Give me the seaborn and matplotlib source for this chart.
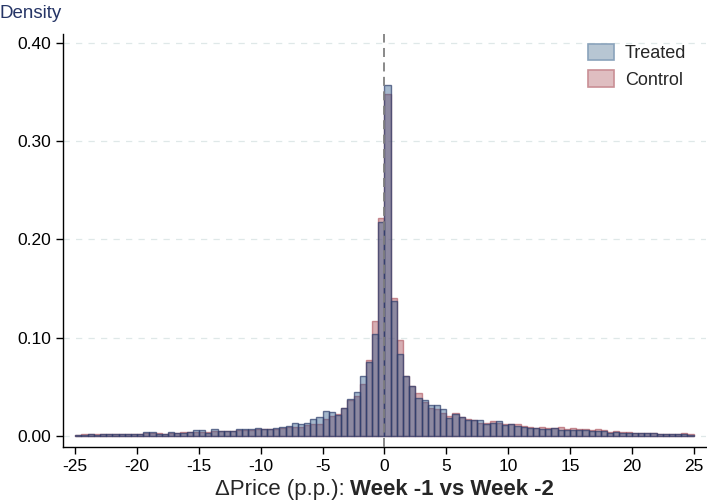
import numpy as np
import pandas as pd
import seaborn as sns
import matplotlib.pyplot as plt
from matplotlib.patches import Patch
from matplotlib.offsetbox import TextArea, HPacker, AnchoredOffsetbox

# histogram densities, bins of width 0.5 from -25 to 25
bin_lo = -25.0
bin_w = 0.5

treated = [
    0.0014, 0.0014, 0.0017, 0.0014, 0.0017, 0.0017, 0.0017, 0.0020, 0.0024, 0.0024,
    0.0024, 0.0037, 0.0037, 0.0024, 0.0024, 0.0037, 0.0027, 0.0031, 0.0037, 0.0058,
    0.0058, 0.0034, 0.0068, 0.0054, 0.0054, 0.0054, 0.0071, 0.0068, 0.0071, 0.0078,
    0.0068, 0.0068, 0.0078, 0.0092, 0.0102, 0.0132, 0.0122, 0.0129, 0.0176, 0.0197,
    0.0258, 0.0244, 0.0214, 0.0285, 0.0376, 0.0451, 0.0607, 0.0749, 0.1040, 0.2180,
    0.3570, 0.1370, 0.0830, 0.0614, 0.0512, 0.0383, 0.0363, 0.0319, 0.0319, 0.0278,
    0.0180, 0.0220, 0.0190, 0.0163, 0.0166, 0.0166, 0.0119, 0.0136, 0.0156, 0.0115,
    0.0119, 0.0102, 0.0092, 0.0085, 0.0085, 0.0075, 0.0071, 0.0078, 0.0064, 0.0058,
    0.0064, 0.0058, 0.0058, 0.0051, 0.0051, 0.0047, 0.0034, 0.0041, 0.0034, 0.0034,
    0.0031, 0.0031, 0.0027, 0.0027, 0.0024, 0.0024, 0.0017, 0.0017, 0.0020, 0.0010,
]
control = [
    0.0014, 0.0024, 0.0024, 0.0017, 0.0024, 0.0017, 0.0017, 0.0024, 0.0024, 0.0024,
    0.0024, 0.0027, 0.0031, 0.0027, 0.0024, 0.0027, 0.0027, 0.0037, 0.0044, 0.0041,
    0.0041, 0.0037, 0.0047, 0.0047, 0.0054, 0.0054, 0.0058, 0.0061, 0.0064, 0.0071,
    0.0068, 0.0068, 0.0075, 0.0085, 0.0092, 0.0092, 0.0092, 0.0115, 0.0119, 0.0125,
    0.0176, 0.0200, 0.0224, 0.0285, 0.0363, 0.0410, 0.0532, 0.0776, 0.1166, 0.2220,
    0.3480, 0.1405, 0.0980, 0.0614, 0.0512, 0.0441, 0.0342, 0.0281, 0.0275, 0.0234,
    0.0203, 0.0237, 0.0190, 0.0176, 0.0160, 0.0132, 0.0136, 0.0156, 0.0129, 0.0125,
    0.0125, 0.0125, 0.0098, 0.0095, 0.0085, 0.0095, 0.0081, 0.0085, 0.0092, 0.0068,
    0.0085, 0.0068, 0.0075, 0.0061, 0.0068, 0.0058, 0.0041, 0.0047, 0.0041, 0.0044,
    0.0034, 0.0027, 0.0034, 0.0031, 0.0024, 0.0024, 0.0017, 0.0017, 0.0027, 0.0024,
]
groups = ["Treated", "Control"]
xticks = list(range(-25, 30, 5))
yticks = [0.0, 0.1, 0.2, 0.3, 0.4]

n = len(treated)
edges = [bin_lo + bin_w * i for i in range(n + 1)]
centers = [e + bin_w / 2 for e in edges[:-1]]

df = pd.DataFrame({
    "center": centers * 2,
    "density": treated + control,
    "group": ["Treated"] * n + ["Control"] * n,
})

sns.set_style("ticks")
plt.rcParams["font.family"] = ["Liberation Sans", "DejaVu Sans"]
plt.rcParams["axes.unicode_minus"] = False

fig, ax = plt.subplots(figsize=(7.07, 5.01), dpi=100)
fig.subplots_adjust(left=0.089, right=0.9986, bottom=0.108, top=0.932)

# control underneath, treated on top -> overlap looks grey-lavender
styles = {
    "Control": ("#af5f69", 0.5, (0.67, 0.31, 0.35, 0.6)),
    "Treated": ("#295789", 0.42, (0.18, 0.24, 0.42, 0.7)),
}
for g in ["Control", "Treated"]:
    face, a, edge = styles[g]
    sns.histplot(data=df[df["group"] == g], x="center", weights="density",
                 bins=edges, stat="count", color=face, alpha=a,
                 edgecolor=edge, linewidth=1, label=g, ax=ax)

ax.axvline(0, color="#808080", ls=(0, (5, 3)), lw=1.3, zorder=3)

ax.set_xlim(-26, 26)
ax.set_ylim(-0.011, 0.409)
ax.set_xticks(xticks)
ax.set_yticks(yticks)
ax.set_yticklabels([f"{v:.2f}" for v in yticks])
ax.yaxis.grid(True, color="#dfe8e8", ls=(0, (5, 5)), lw=0.9)
ax.set_axisbelow(True)
sns.despine(ax=ax)
for s in ["left", "bottom"]:
    ax.spines[s].set_color("black")
    ax.spines[s].set_linewidth(1)
ax.tick_params(direction="out", length=5, width=1, color="black",
               labelsize=12.5, labelcolor="black")

ax.set_xlabel("")
ax.set_ylabel("Density", rotation=0, ha="left", va="bottom",
              fontsize=13.5, color="#263566")
ax.yaxis.set_label_coords(-0.098, 1.03)

# legend keys are lighter than the stacked bars
leg_style = {"Treated": ("#b7c6d3", "#8aa3bb"), "Control": ("#dfbec1", "#c98f95")}
handles = [Patch(facecolor=leg_style[g][0], edgecolor=leg_style[g][1], lw=1.2)
           for g in groups]
ax.legend(handles, groups,
          loc="upper right", bbox_to_anchor=(0.969, 0.976), frameon=False,
          fontsize=13, handlelength=1.45, handleheight=1.0,
          handletextpad=0.6, labelspacing=0.45, borderaxespad=0, borderpad=0)

# x axis title: regular part + bold part
part1 = TextArea("\u0394Price (p.p.): ", textprops=dict(fontsize=16))
part2 = TextArea("Week -1 vs Week -2", textprops=dict(fontsize=16, weight="bold"))
box = HPacker(children=[part1, part2], align="baseline", pad=0, sep=0)
anchored = AnchoredOffsetbox(loc="upper center", child=box, pad=0, borderpad=0,
                             frameon=False, bbox_to_anchor=(0.5, -0.078),
                             bbox_transform=ax.transAxes)
ax.add_artist(anchored)

plt.savefig("out.png", dpi=100)
